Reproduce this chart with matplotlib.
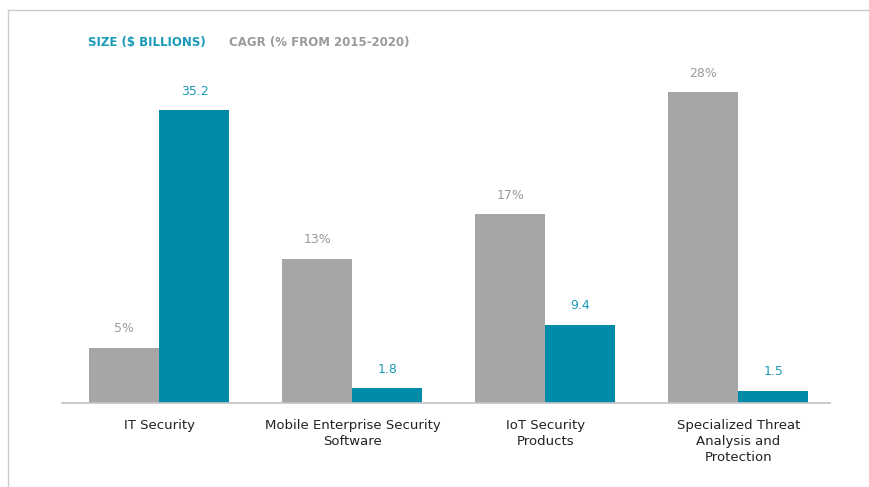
import matplotlib.pyplot as plt
import numpy as np
from matplotlib.lines import Line2D

categories = ['IT Security', 'Mobile Enterprise Security\nSoftware',
              'IoT Security\nProducts', 'Specialized Threat\nAnalysis and\nProtection']
cagr = [5, 13, 17, 28]
size = [35.2, 1.8, 9.4, 1.5]
cagr_labels = ['5%', '13%', '17%', '28%']
size_labels = ['35.2', '1.8', '9.4', '1.5']

gray = '#a6a6a6'
teal = '#008ca8'
gray_txt = '#9a9a9a'
teal_txt = '#1a9ab8'

fig = plt.figure(figsize=(8.7, 4.87), dpi=100)
ax = fig.add_axes([62/870, 84/487, 768/870, 343/487])
ax2 = ax.twinx()

x = np.arange(len(categories))
w = 0.363

ax.bar(x - w/2, cagr, w, color=gray, zorder=2)
ax2.bar(x + w/2, size, w, color=teal, zorder=2)

# two separate scales, as in the original graphic
ax.set_ylim(0, 343/11.1)
ax2.set_ylim(0, 343/8.32)
ax.set_xlim(-0.505, 3.475)

for xi, v, s in zip(x, cagr, cagr_labels):
    ax.annotate(s, (xi - w/2, v), xytext=(0, 9), textcoords='offset points',
                ha='center', va='bottom', color=gray_txt, fontsize=9)
for xi, v, s in zip(x, size, size_labels):
    ax2.annotate(s, (xi + w/2, v), xytext=(0, 9), textcoords='offset points',
                 ha='center', va='bottom', color=teal_txt, fontsize=9)

for a in (ax, ax2):
    for sp in a.spines.values():
        sp.set_visible(False)
    a.set_yticks([])
ax2.axhline(0, color='#c4c4c4', lw=1.2, zorder=3, clip_on=False)
ax.set_xticks(x)
ax.set_xticklabels(categories, fontsize=9.5, color='#222222', linespacing=1.3, va='top')
ax.tick_params(axis='x', length=0, pad=11.5)

fig.text(88/870, 1 - 42.5/487, 'SIZE ($ BILLIONS)', color=teal_txt, fontsize=8.5,
         fontweight='bold', va='center', ha='left')
fig.text(229/870, 1 - 42.5/487, 'CAGR (% FROM 2015-2020)', color=gray_txt, fontsize=8.5,
         fontweight='bold', va='center', ha='left')

# thin frame on top and left, like the source image
fig.add_artist(Line2D([8/870, 1], [1 - 10/487, 1 - 10/487], color='#cccccc', lw=1))
fig.add_artist(Line2D([8/870, 8/870], [0, 1 - 10/487], color='#cccccc', lw=1))

fig.savefig('out.png', dpi=100)
